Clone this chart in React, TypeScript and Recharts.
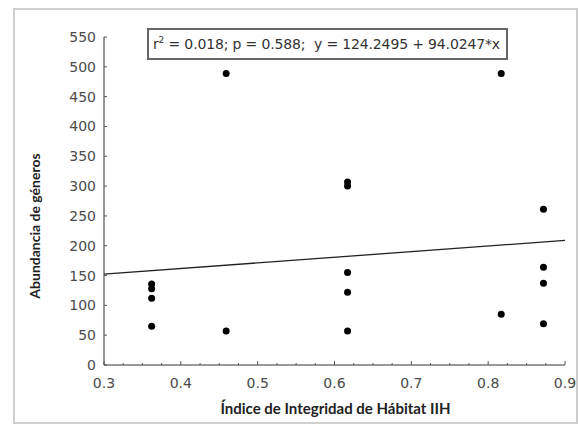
import React from "react";
import {
  ScatterChart,
  Scatter,
  XAxis,
  YAxis,
  ZAxis,
  ReferenceLine,
} from "recharts";

// Índice de Integridad de Hábitat (IIH) values and abundances
const iihValues = [
  0.362, 0.362, 0.362, 0.362,
  0.459, 0.459,
  0.617, 0.617, 0.617, 0.617, 0.617,
  0.817, 0.817,
  0.872, 0.872, 0.872, 0.872,
];
const abundance = [
  136, 128, 112, 65,
  489, 57,
  307, 300, 155, 122, 57,
  489, 85,
  261, 164, 137, 69,
];
const intercept = 124.2495;
const slope = 94.0247;
const xDomain = [0.3, 0.9];
const yDomain = [0, 550];
const xTicks = [0.3, 0.325, 0.35, 0.375, 0.4, 0.425, 0.45, 0.475, 0.5, 0.525, 0.55, 0.575, 0.6, 0.625, 0.65, 0.675, 0.7, 0.725, 0.75, 0.775, 0.8, 0.825, 0.85, 0.875, 0.9];
const xMajor = [0.3, 0.4, 0.5, 0.6, 0.7, 0.8, 0.9];
const yTicks = [0, 50, 100, 150, 200, 250, 300, 350, 400, 450, 500, 550];
const xTitle = "Índice de Integridad de Hábitat IIH";
const yTitle = "Abundancia de géneros";

const points = iihValues.map((x, i) => ({ x, y: abundance[i] }));

const tickFont = "'DejaVu Sans', Verdana, sans-serif";
const titleFont = "Lato, sans-serif";

const XTick = (props: any) => {
  const { x, y, payload } = props;
  const v = payload.value;
  const major = xMajor.some((m) => Math.abs(m - v) < 1e-6);
  return (
    <g>
      <line x1={x} x2={x} y1={y} y2={y - (major ? 4 : 2)} stroke="#555" strokeWidth={1} />
      {major && (
        <text x={x} y={y + 23} textAnchor="middle" fontSize={14} fill="#4a4a4a" fontFamily={tickFont}>
          {v.toFixed(1)}
        </text>
      )}
    </g>
  );
};

const YTick = (props: any) => {
  const { x, y, payload } = props;
  return (
    <g>
      <line x1={x} x2={x + 3} y1={y} y2={y} stroke="#555" strokeWidth={1} />
      <text x={x - 8} y={y} dy="0.36em" textAnchor="end" fontSize={14} fill="#4a4a4a" fontFamily={tickFont}>
        {payload.value}
      </text>
    </g>
  );
};

const XTitle = (props: any) => {
  const vb = props.viewBox || {};
  const cx = vb.x + vb.width / 2;
  return (
    <text x={cx + 1} y={vb.y + 49} textAnchor="middle" fontSize={15} fontWeight={700} fill="#222" fontFamily={titleFont}>
      {xTitle}
    </text>
  );
};

const YTitle = (props: any) => {
  const vb = props.viewBox || {};
  const cx = vb.x + 40;
  const cy = vb.y + vb.height / 2 + 25;
  return (
    <text
      x={cx}
      y={cy}
      transform={`rotate(-90 ${cx} ${cy})`}
      textAnchor="middle"
      fontSize={14}
      fontWeight={700}
      fill="#222"
      fontFamily={titleFont}
    >
      {yTitle}
    </text>
  );
};

const Dot = (props: any) => {
  const { cx, cy } = props;
  return <circle cx={cx} cy={cy} r={3.5} fill="#000" />;
};

export default function App() {
  return (
    <div style={{ position: "absolute", left: 0, top: 0, width: 579, height: 426, background: "#fff" }}>
      <div
        style={{
          position: "absolute",
          left: 13,
          top: 8,
          width: 565,
          height: 416,
          border: "2px solid #cfcfcf",
          boxSizing: "border-box",
        }}
      />
      <ScatterChart
        width={579}
        height={426}
        margin={{ top: 37, right: 14, bottom: 0, left: 0 }}
        style={{ position: "absolute", left: 0, top: 0 }}
      >
        <XAxis
          type="number"
          dataKey="x"
          domain={xDomain}
          ticks={xTicks}
          interval={0}
          allowDataOverflow
          height={61}
          tickSize={0}
          tickMargin={0}
          tickLine={false}
          axisLine={{ stroke: "#333", strokeWidth: 1 }}
          tick={<XTick />}
          label={<XTitle />}
        />
        <YAxis
          type="number"
          dataKey="y"
          domain={yDomain}
          ticks={yTicks}
          interval={0}
          allowDataOverflow
          width={104}
          tickSize={0}
          tickMargin={0}
          tickLine={false}
          axisLine={{ stroke: "#333", strokeWidth: 1 }}
          tick={<YTick />}
          label={<YTitle />}
        />
        <ZAxis range={[40, 40]} />
        <ReferenceLine
          segment={[
            { x: xDomain[0], y: intercept + slope * xDomain[0] },
            { x: xDomain[1], y: intercept + slope * xDomain[1] },
          ]}
          stroke="#222"
          strokeWidth={1.3}
        />
        <Scatter data={points} fill="#000" shape={<Dot />} isAnimationActive={false} />
      </ScatterChart>
      <div
        style={{
          position: "absolute",
          left: 147,
          top: 28,
          width: 361,
          height: 32,
          border: "2px solid #666",
          boxSizing: "border-box",
          fontFamily: tickFont,
          fontSize: 14,
          color: "#333",
          lineHeight: "28px",
          paddingLeft: 4,
          whiteSpace: "pre",
          letterSpacing: "-0.15px",
        }}
      >
        r<sup style={{ fontSize: 9, verticalAlign: "6px", lineHeight: 0 }}>2</sup>
        {" = 0.018; p = 0.588;  y = 124.2495 + 94.0247*x"}
      </div>
    </div>
  );
}
